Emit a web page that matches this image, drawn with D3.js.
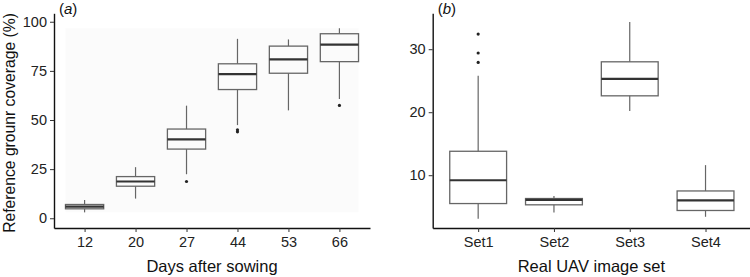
<!DOCTYPE html>
<html lang="en">
<head>
<meta charset="UTF-8">
<title>Ground coverage boxplots</title>
<script src="https://d3js.org/d3.v7.min.js"></script>
<style>
    body { margin: 0; background: #fff; }
    svg { font-family: "Liberation Sans", Arial, sans-serif; }
    .tick text { font-size: 14.5px; fill: #222; }
    .tick line { stroke: #333; }
    .domain { stroke: #111; stroke-width: 1.4px; }
    .title { font-size: 16.5px; fill: #111; }
    .ytitle { font-size: 15.7px; fill: #111; }
    .tag { font-size: 15px; fill: #111; }
</style>
</head>
<body>
<div id="chart"></div>
<script>
    // panel (a): reference ground coverage per sampling day
    var days = ["12", "20", "27", "44", "53", "66"];
    var coverLow = [3.0, 10.0, 22.4, 47.4, 54.9, 60.7];
    var coverQ1 = [4.8, 16.3, 35.2, 65.5, 73.8, 79.7];
    var coverMed = [5.9, 18.7, 40.1, 73.3, 80.9, 88.4];
    var coverQ3 = [7.0, 21.2, 45.4, 78.6, 87.6, 93.9];
    var coverHigh = [9.3, 26.0, 57.3, 91.3, 91.0, 96.7];
    var coverOutliers = [[], [], [18.7], [44.0, 45.0], [], [57.4]];
    var coverTicks = [0, 25, 50, 75, 100];

    // panel (b): real UAV image sets
    var sets = ["Set1", "Set2", "Set3", "Set4"];
    var uavLow = [3.1, 4.1, 20.2, 3.4];
    var uavQ1 = [5.5, 5.3, 22.6, 4.4];
    var uavMed = [9.2, 6.1, 25.3, 6.0];
    var uavQ3 = [13.8, 6.3, 28.0, 7.5];
    var uavHigh = [25.8, 6.7, 34.3, 11.6];
    var uavOutliers = [[32.4, 29.4, 27.9], [], [], []];
    var uavTicks = [10, 20, 30];

    var width = 750, height = 277;
    var svg = d3.select("#chart").append("svg")
        .attr("width", width)
        .attr("height", height);

    function drawPanel(opt) {
        var x = d3.scalePoint().domain(opt.cats).range(opt.xRange).padding(0.6);
        var y = d3.scaleLinear().domain(opt.yDomain).range([228, 13.3]);
        var bw = x.step() * 0.75;
        var g = svg.append("g");

        var stats = opt.cats.map(function(c, i) {
            return { cat: c, low: opt.low[i], q1: opt.q1[i], med: opt.med[i],
                     q3: opt.q3[i], high: opt.high[i], out: opt.out[i] };
        });

        // faint background behind the data (panel a only)
        if (opt.backdrop) {
            g.append("rect")
                .attr("x", x(opt.cats[0]) - bw / 2)
                .attr("width", x(opt.cats[opt.cats.length - 1]) - x(opt.cats[0]) + bw)
                .attr("y", y(d3.max(opt.high)))
                .attr("height", y(d3.min(opt.low)) - y(d3.max(opt.high)))
                .attr("fill", "#fbfbfb");
        }

        var box = g.selectAll(".box").data(stats).enter().append("g").attr("class", "box");

        box.append("line")
            .attr("x1", d => x(d.cat)).attr("x2", d => x(d.cat))
            .attr("y1", d => y(d.high)).attr("y2", d => y(d.q3))
            .attr("stroke", "#666").attr("stroke-width", 1.2);
        box.append("line")
            .attr("x1", d => x(d.cat)).attr("x2", d => x(d.cat))
            .attr("y1", d => y(d.q1)).attr("y2", d => y(d.low))
            .attr("stroke", "#666").attr("stroke-width", 1.2);
        box.append("rect")
            .attr("x", d => x(d.cat) - bw / 2)
            .attr("width", bw)
            .attr("y", d => y(d.q3))
            .attr("height", d => y(d.q1) - y(d.q3))
            .attr("fill", "none")
            .attr("stroke", "#666").attr("stroke-width", 1.3);
        box.append("line")
            .attr("x1", d => x(d.cat) - bw / 2).attr("x2", d => x(d.cat) + bw / 2)
            .attr("y1", d => y(d.med)).attr("y2", d => y(d.med))
            .attr("stroke", "#333").attr("stroke-width", 2.2);

        box.selectAll("circle")
            .data(d => d.out.map(v => ({ cat: d.cat, v: v })))
            .enter().append("circle")
            .attr("cx", d => x(d.cat))
            .attr("cy", d => y(d.v))
            .attr("r", 1.6)
            .attr("fill", "#222");

        g.append("g")
            .attr("transform", "translate(0,228)")
            .call(d3.axisBottom(x).tickSize(4).tickSizeOuter(0).tickPadding(5));
        g.append("g")
            .attr("transform", "translate(" + opt.xRange[0] + ",0)")
            .call(d3.axisLeft(y).tickValues(opt.ticks).tickSize(4).tickSizeOuter(0).tickPadding(3));

        g.append("text")
            .attr("class", "title")
            .attr("x", (opt.xRange[0] + Math.min(opt.xRange[1], width)) / 2)
            .attr("y", 272)
            .attr("text-anchor", "middle")
            .text(opt.xTitle);

        var tag = g.append("text")
            .attr("class", "tag")
            .attr("x", opt.xRange[0] + 5)
            .attr("y", 14);
        tag.append("tspan").text("(");
        tag.append("tspan").style("font-style", "italic").text(opt.tag);
        tag.append("tspan").text(")");
    }

    drawPanel({
        cats: days, low: coverLow, q1: coverQ1, med: coverMed, q3: coverQ3,
        high: coverHigh, out: coverOutliers, ticks: coverTicks,
        xRange: [54, 370], yDomain: [-4.96, 104.3],
        xTitle: "Days after sowing", tag: "a", backdrop: true
    });

    drawPanel({
        cats: sets, low: uavLow, q1: uavQ1, med: uavMed, q3: uavQ3,
        high: uavHigh, out: uavOutliers, ticks: uavTicks,
        xRange: [432.7, 751], yDomain: [1.62, 35.7],
        xTitle: "Real UAV image set", tag: "b", backdrop: false
    });

    svg.append("text")
        .attr("class", "ytitle")
        .attr("transform", "translate(15,123) rotate(-90)")
        .attr("text-anchor", "middle")
        .text("Reference grounr coverage (%)");
</script>
</body>
</html>
